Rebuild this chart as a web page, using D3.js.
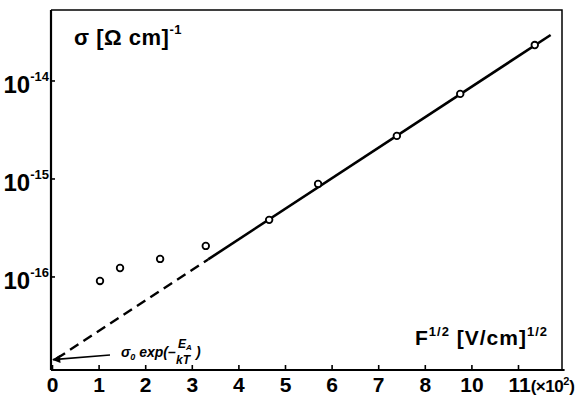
<!DOCTYPE html>
<html>
<head>
<meta charset="utf-8">
<script src="https://cdn.jsdelivr.net/npm/d3@7"></script>
<style>
  body { margin: 0; background: #fff; }
  text { font-family: "Liberation Sans", Arial, sans-serif; font-weight: bold; fill: #000; }
  .axis path, .axis line { stroke: #000; }
</style>
</head>
<body>
<div id="chart"></div>
<script>
// Measured points: F^1/2 (x 10^2) vs conductivity
const fieldRoot = [1.03, 1.46, 2.32, 3.30, 4.66, 5.71, 7.40, 8.76, 10.36];
const sigma = [9.0e-17, 1.22e-16, 1.51e-16, 2.05e-16, 3.78e-16, 8.8e-16, 2.72e-15, 7.3e-15, 2.30e-14];

// Fitted line: dashed extrapolation to F = 0, then solid
const fitDashX = [0.1, 3.35];
const fitSolidX = [3.35, 10.7];
const fitIntercept = 1.35e-17;   // sigma0 exp(-E_A/kT)
const fitSlope = 0.3116;         // decades per unit

const xTicks = [0, 1, 2, 3, 4, 5, 6, 7, 8, 9, 10];
const xTickLabels = ["0", "1", "2", "3", "4", "5", "6", "7", "8", "10", "11"];
const yTicks = [1e-14, 1e-15, 1e-16];
const yTickExp = ["-14", "-15", "-16"];

const margin = {top: 10, right: 16, bottom: 25, left: 51};
const width = 578 - margin.left - margin.right;
const height = 395 - margin.top - margin.bottom;

const svg = d3.select("#chart")
    .append("svg")
    .attr("width", width + margin.left + margin.right)
    .attr("height", height + margin.top + margin.bottom)
    .append("g")
    .attr("transform", `translate(${margin.left},${margin.top})`);

const x = d3.scaleLinear().domain([0, 11]).range([1, 1 + 46.6 * 11]);
const y = d3.scaleLog().domain([1.11e-17, 5.24e-14]).range([height, 0]);

const fit = v => fitIntercept * Math.pow(10, fitSlope * v);

// frame top and right
svg.append("path")
    .attr("d", `M0,0H${width}V${height}`)
    .attr("fill", "none")
    .attr("stroke", "#000")
    .attr("stroke-width", 1.5);

// x axis, ticks pointing inward
const xAxis = svg.append("g")
    .attr("class", "axis")
    .attr("transform", `translate(0,${height})`)
    .call(d3.axisBottom(x).tickValues(xTicks).tickSize(-5).tickPadding(7)
        .tickFormat((d, i) => xTickLabels[i]));
xAxis.select(".domain").attr("d", `M0,0H${x(11)}`).attr("stroke-width", 2.2);
xAxis.selectAll(".tick line").attr("stroke-width", 1.6);
xAxis.selectAll(".tick text").attr("font-size", 21).attr("font-family", null);

// last label carries the (x10^2) unit
const last = xAxis.selectAll(".tick text").filter((d, i) => i === xTicks.length - 1);
last.text("").attr("text-anchor", "start").attr("x", -10);
last.append("tspan").text("11");
last.append("tspan").attr("font-size", 17).attr("letter-spacing", -0.5).text("(×10");
last.append("tspan").attr("font-size", 11).attr("dy", -7).text("2");
last.append("tspan").attr("font-size", 17).attr("dy", 7).text(")");

// y axis
const yAxis = svg.append("g")
    .attr("class", "axis")
    .call(d3.axisLeft(y).tickValues(yTicks).tickSize(-4).tickFormat(""));
yAxis.select(".domain").attr("d", `M0,0V${height}`).attr("stroke-width", 2.2);
yAxis.selectAll(".tick line").attr("stroke-width", 1.6);

yTicks.forEach((t, i) => {
    const lbl = svg.append("text")
        .attr("x", -2)
        .attr("y", y(t) + 13)
        .attr("text-anchor", "end");
    lbl.append("tspan").attr("font-size", 24).text("10");
    lbl.append("tspan").attr("font-size", 13).attr("dy", -12).text(yTickExp[i]);
});

// fitted line
const line = d3.line().x(d => x(d)).y(d => y(fit(d)));
svg.append("path")
    .datum(fitDashX)
    .attr("d", line)
    .attr("fill", "none")
    .attr("stroke", "#000")
    .attr("stroke-width", 2.4)
    .attr("stroke-dasharray", "10,6");
svg.append("path")
    .datum(fitSolidX)
    .attr("d", line)
    .attr("fill", "none")
    .attr("stroke", "#000")
    .attr("stroke-width", 2.6);

// data points
svg.selectAll("circle.pt")
    .data(fieldRoot)
    .enter().append("circle")
    .attr("class", "pt")
    .attr("cx", d => x(d))
    .attr("cy", (d, i) => y(sigma[i]))
    .attr("r", 3.3)
    .attr("fill", "#fff")
    .attr("stroke", "#000")
    .attr("stroke-width", 1.8);

// annotation arrow to the intercept
svg.append("defs").append("marker")
    .attr("id", "arrow")
    .attr("viewBox", "0 0 10 10")
    .attr("refX", 9).attr("refY", 5)
    .attr("markerWidth", 7).attr("markerHeight", 5)
    .attr("orient", "auto")
    .append("path").attr("d", "M0,0L10,5L0,10z").attr("fill", "#000");
svg.append("line")
    .attr("x1", 59).attr("y1", 345)
    .attr("x2", x(0) + 1).attr("y2", y(fitIntercept) - 2)
    .attr("stroke", "#000")
    .attr("stroke-width", 1.6)
    .attr("marker-end", "url(#arrow)");

const ann = svg.append("g").attr("font-style", "italic");
ann.append("text").attr("x", 70).attr("y", 347).attr("font-size", 14)
    .html('σ<tspan font-size="9" dy="3">0</tspan><tspan dy="-3"> exp(–</tspan>');
ann.append("text").attr("x", 127).attr("y", 338).attr("font-size", 12)
    .html('E<tspan font-size="8" dy="2">A</tspan>');
ann.append("text").attr("x", 125).attr("y", 354).attr("font-size", 12).text("kT");
ann.append("text").attr("x", 145).attr("y", 347).attr("font-size", 14).text(")");

// axis titles
const yTitle = svg.append("text")
    .attr("x", 23)
    .attr("y", 35)
    .attr("font-size", 22)
    .attr("letter-spacing", 0.5);
yTitle.append("tspan").text("σ [Ω cm]");
yTitle.append("tspan").attr("font-size", 13).attr("dy", -11).text("-1");

const xTitle = svg.append("text")
    .attr("x", 497)
    .attr("y", 335)
    .attr("text-anchor", "end")
    .attr("font-size", 21)
    .attr("letter-spacing", 1);
xTitle.append("tspan").text("F");
xTitle.append("tspan").attr("font-size", 13).attr("dy", -9).text("1/2");
xTitle.append("tspan").attr("dy", 9).text(" [V/cm]");
xTitle.append("tspan").attr("font-size", 13).attr("dy", -9).text("1/2");
</script>
</body>
</html>
